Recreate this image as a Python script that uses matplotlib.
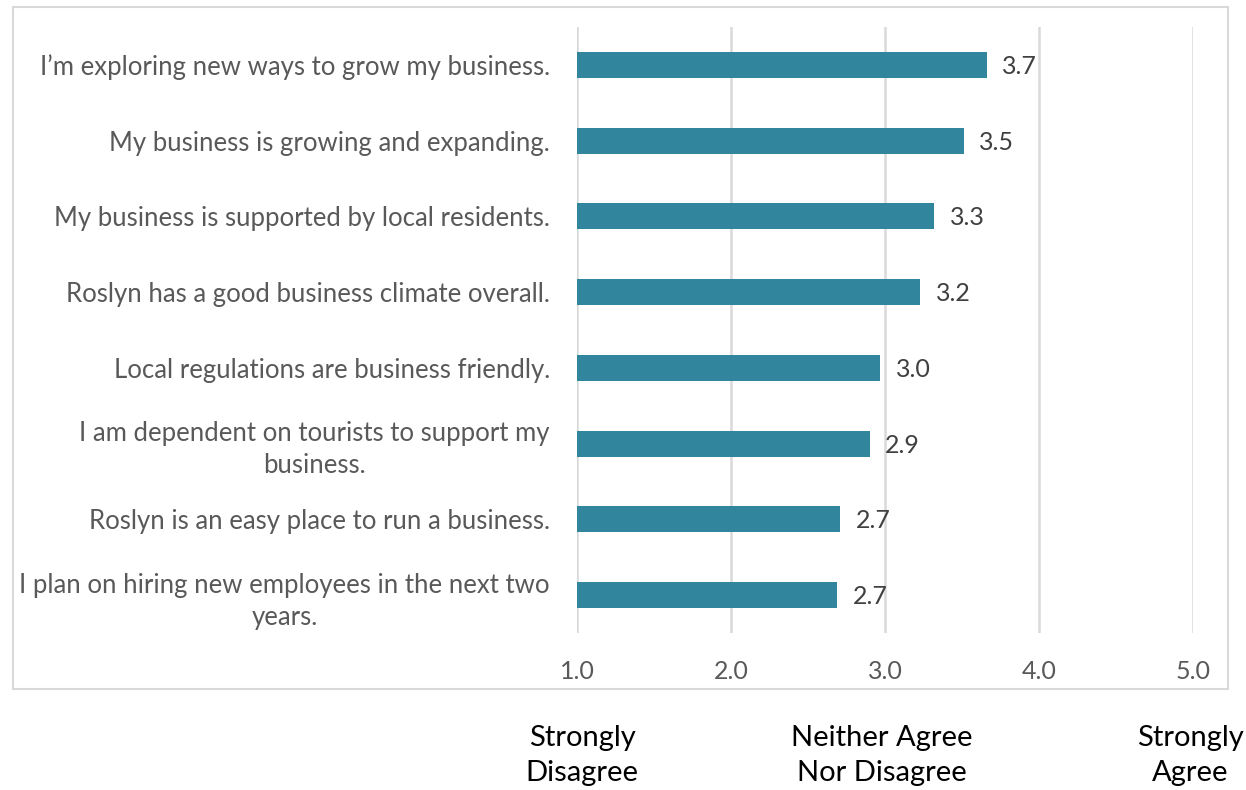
import matplotlib.pyplot as plt
from matplotlib.patches import Rectangle

# survey statements, top to bottom
statements = [
    "I\u2019m exploring new ways to grow my business.",
    "My business is growing and expanding.",
    "My business is supported by local residents.",
    "Roslyn has a good business climate overall.",
    "Local regulations are business friendly.",
    "I am dependent on tourists to support my\nbusiness.",
    "Roslyn is an easy place to run a business.",
    "I plan on hiring new employees in the next two\nyears.",
]
mean_scores = [3.66, 3.51, 3.32, 3.23, 2.97, 2.90, 2.71, 2.69]
scale_ticks = [1.0, 2.0, 3.0, 4.0, 5.0]
scale_words = ["Strongly\nDisagree", "Neither Agree\nNor Disagree", "Strongly\nAgree"]
scale_word_pos = [1.0, 3.0, 5.0]

plt.rcParams["font.family"] = ["Lato", "DejaVu Sans"]

W, H = 1246, 790
fig = plt.figure(figsize=(W / 100, H / 100), dpi=100)
ax = fig.add_axes([577 / W, 1 - 633 / H, (1193 - 577) / W, (633 - 27) / H])

bar_color = "#31859c"
text_grey = "#595959"

ypos = list(range(len(statements)))
ax.barh(ypos, [s - 1.0 for s in mean_scores], left=1.0, height=0.345,
        color=bar_color, zorder=3)
for y, s in zip(ypos, mean_scores):
    ax.text(s + 0.1, y + 0.02, f"{s:.1f}", va="center", ha="left",
            fontsize=18, color="#404040")

ax.set_xlim(1.0, 5.0)
ax.set_ylim(len(statements) - 0.5, -0.5)
ax.set_xticks(scale_ticks)
ax.set_xticklabels([f"{t:.1f}" for t in scale_ticks], fontsize=18, color=text_grey)
ax.set_yticks(ypos)
ax.set_yticklabels(statements, fontsize=18.5, color=text_grey)
for lab in ax.get_yticklabels():
    lab.set_multialignment("center")
    lab.set_linespacing(1.35)
ax.tick_params(axis="both", length=0)
ax.tick_params(axis="y", pad=19.5)
ax.tick_params(axis="x", pad=19.5)
ax.grid(axis="x", color="#d9d9d9", linewidth=1.8, zorder=0)
for sp in ax.spines.values():
    sp.set_visible(False)

# outer frame around the chart area
fig.patches.append(Rectangle((13 / W, 1 - 689 / H), (1228 - 13) / W, (689 - 7) / H,
                             transform=fig.transFigure, fill=False,
                             edgecolor="#d9d9d9", linewidth=1.5))

# scale anchors below the frame
nudge_px = [5, -3, -3]
for word, xv, dx in zip(scale_words, scale_word_pos, nudge_px):
    xf = (577 + (xv - 1.0) * 154 + dx) / W
    fig.text(xf, 1 - 725 / H, word, ha="center", va="top",
             fontsize=21, color="black", linespacing=1.45)

fig.savefig("out.png", dpi=100)
